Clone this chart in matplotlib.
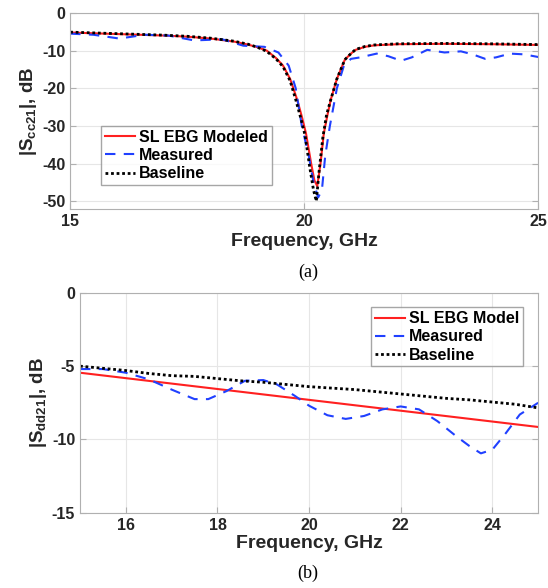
import matplotlib
matplotlib.use("Agg")
import matplotlib.pyplot as plt

# panel (a): common-mode |Scc21|
freq_a_model = [15.0, 16.0, 17.0, 17.5, 18.0, 18.5, 18.8, 19.0, 19.2, 19.4, 19.55, 19.7, 19.85, 19.95,
                20.04, 20.15, 20.22, 20.28, 20.35, 20.42, 20.5, 20.57, 20.7, 20.87, 21.0, 21.1, 21.3,
                21.5, 22.0, 23.0, 24.0, 25.0]
scc_model = [-5.2, -5.6, -6.0, -6.3, -6.8, -7.6, -8.4, -9.1, -10.0, -12.0, -14.0, -17.5, -23.0, -27.5,
             -32.0, -40.0, -44.5, -46.0, -40.0, -32.0, -27.0, -23.0, -17.5, -12.4, -10.8, -9.8, -9.0,
             -8.6, -8.3, -8.2, -8.3, -8.5]
freq_a_base = [15.0, 16.0, 17.0, 17.5, 18.0, 18.5, 18.8, 19.0, 19.2, 19.4, 19.55, 19.7, 19.82, 19.93,
               20.02, 20.12, 20.2, 20.26, 20.32, 20.4, 20.48, 20.57, 20.7, 20.87, 21.0, 21.1, 21.3,
               21.5, 22.0, 23.0, 24.0, 25.0]
scc_base = [-5.1, -5.5, -5.9, -6.2, -6.7, -7.5, -8.3, -9.1, -10.2, -12.2, -14.3, -18.0, -23.0, -28.0,
            -32.5, -41.0, -47.0, -50.0, -42.0, -33.0, -27.0, -23.0, -17.5, -12.4, -10.8, -9.7, -8.9,
            -8.5, -8.2, -8.1, -8.2, -8.4]
freq_a_meas = [15.0, 15.5, 16.05, 16.6, 17.1, 17.65, 18.25, 18.7, 19.15, 19.45, 19.67, 19.82, 19.95,
               20.1, 20.2, 20.3, 20.38, 20.45, 20.55, 20.7, 20.85, 21.0, 21.2, 21.55, 21.8, 22.07,
               22.3, 22.63, 23.0, 23.35, 23.6, 23.87, 24.1, 24.4, 24.7, 25.0]
scc_meas = [-5.5, -5.8, -6.8, -5.8, -6.0, -7.3, -7.0, -8.7, -9.0, -10.5, -14.0, -20.0, -30.0,
            -38.0, -45.0, -49.0, -47.0, -38.0, -30.0, -20.0, -14.0, -12.2, -11.8, -10.8, -11.5,
            -12.7, -11.8, -9.8, -10.5, -10.2, -11.0, -12.2, -11.8, -10.8, -11.0, -11.7]

# panel (b): differential-mode |Sdd21|
freq_b_model = [15.0, 25.0]
sdd_model = [-5.45, -9.15]
freq_b_base = [15.0, 15.5, 16.0, 16.5, 17.0, 17.5, 18.0, 18.5, 19.0, 19.5, 20.0, 20.5, 21.0, 21.5,
               22.0, 22.5, 23.0, 23.5, 24.0, 24.5, 25.0]
sdd_base = [-5.0, -5.15, -5.3, -5.5, -5.65, -5.7, -5.85, -6.0, -6.1, -6.25, -6.4, -6.5, -6.6, -6.75,
            -6.9, -7.05, -7.2, -7.3, -7.45, -7.6, -7.85]
freq_b_meas = [15.0, 15.5, 16.0, 16.5, 17.0, 17.5, 17.8, 18.2, 18.6, 19.0, 19.3, 19.7, 20.0, 20.4,
               20.8, 21.2, 21.6, 22.0, 22.4, 22.8, 23.2, 23.5, 23.75, 24.0, 24.3, 24.6, 25.0]
sdd_meas = [-5.2, -5.2, -5.45, -5.9, -6.6, -7.25, -7.25, -6.7, -6.0, -5.95, -6.25, -7.05, -7.7, -8.35,
            -8.6, -8.4, -7.95, -7.75, -7.95, -8.75, -9.75, -10.45, -10.95, -10.7, -9.55, -8.3, -7.5]

plt.rcParams['font.family'] = ['Liberation Sans', 'DejaVu Sans']
plt.rcParams['axes.unicode_minus'] = False
plt.rcParams['mathtext.fontset'] = 'custom'
plt.rcParams['mathtext.rm'] = 'Liberation Sans:bold'
plt.rcParams['mathtext.it'] = 'Liberation Sans:bold'
plt.rcParams['mathtext.bf'] = 'Liberation Sans:bold'

txt = '#262626'
fig = plt.figure(figsize=(5.48, 5.88), dpi=100)
ax1 = fig.add_axes([0.128, 0.645, 0.854, 0.333])
ax2 = fig.add_axes([0.146, 0.128, 0.836, 0.374])


def style(ax):
    ax.grid(True, color='#e6e6e6', linewidth=0.8)
    ax.set_axisbelow(True)
    for s in ax.spines.values():
        s.set_color('#b0b0b0')
        s.set_linewidth(0.8)
    ax.tick_params(direction='in', length=4, color='#b0b0b0', labelcolor=txt, labelsize=11.5, top=False, right=True)
    for lab in ax.get_xticklabels() + ax.get_yticklabels():
        lab.set_fontweight('bold')


leg_kw = dict(prop={'weight': 'bold', 'size': 11.5}, frameon=True, fancybox=False, edgecolor='#909090',
              handlelength=1.9, handletextpad=0.25, borderpad=0.25, labelspacing=0.2, borderaxespad=0)

ax1.plot(freq_a_model, scc_model, color='#ff2020', lw=1.5, label='SL EBG Modeled')
ax1.plot(freq_a_meas, scc_meas, color='#2040ff', lw=1.5, ls=(0, (5, 4)), label='Measured')
ax1.plot(freq_a_base, scc_base, color='black', lw=2.0, ls=(0, (1, 1)), label='Baseline')
ax1.set_xlim(15, 25)
ax1.set_ylim(-52, 0)
ax1.set_xticks([15, 20, 25])
ax1.set_yticks([0, -10, -20, -30, -40, -50])
style(ax1)
ax1.set_xlabel('Frequency, GHz', fontsize=14, fontweight='bold', color=txt, labelpad=3)
ax1.set_ylabel(r'|S$_{cc21}$|, dB', fontsize=13.5, fontweight='bold', color=txt, labelpad=2)
ax1.legend(loc='lower left', bbox_to_anchor=(0.066, 0.12), **leg_kw)

ax2.plot(freq_b_model, sdd_model, color='#ff2020', lw=1.5, label='SL EBG Model')
ax2.plot(freq_b_meas, sdd_meas, color='#2040ff', lw=1.5, ls=(0, (5, 4)), label='Measured')
ax2.plot(freq_b_base, sdd_base, color='black', lw=2.0, ls=(0, (1, 1)), label='Baseline')
ax2.set_xlim(15, 25)
ax2.set_ylim(-15, 0)
ax2.set_xticks([16, 18, 20, 22, 24])
ax2.set_yticks([0, -5, -10, -15])
style(ax2)
ax2.set_xlabel('Frequency, GHz', fontsize=14, fontweight='bold', color=txt, labelpad=2)
ax2.set_ylabel(r'|S$_{dd21}$|, dB', fontsize=13.5, fontweight='bold', color=txt, labelpad=2)
ax2.legend(loc='upper right', bbox_to_anchor=(0.968, 0.935), **leg_kw)

fig.text(0.562, 0.537, '(a)', ha='center', va='center', fontsize=13, family='Liberation Serif')
fig.text(0.562, 0.025, '(b)', ha='center', va='center', fontsize=13, family='Liberation Serif')

fig.savefig('out.png', dpi=100)
